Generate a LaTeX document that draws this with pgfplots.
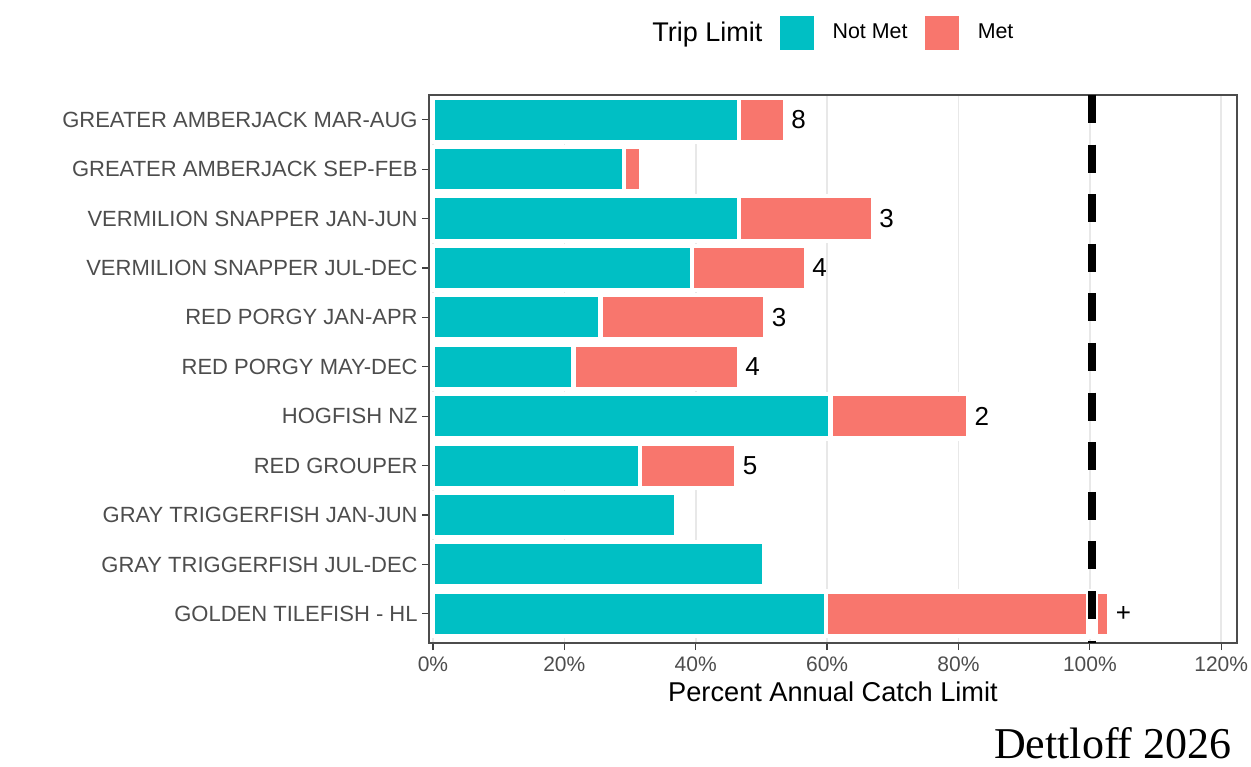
\documentclass[border=0pt]{standalone}
\usepackage{pgfplots}
\pgfplotsset{compat=1.18}
\usepackage{fontspec}
\setmainfont{Liberation Sans}
\newfontfamily\serifcap{Liberation Serif}
\definecolor{notmet}{HTML}{00BFC4}
\definecolor{met}{HTML}{F8766D}
\definecolor{axtext}{HTML}{4D4D4D}
\definecolor{gridc}{HTML}{E8E8E8}
\pgfplotsset{
  frame/.style={at={(214.5pt,61.5pt)}, anchor=south west,
    width=404pt, height=274pt, scale only axis,
    xmin=-0.6, xmax=122.4, ymin=0.41, ymax=11.5}
}
\begin{document}
\begin{tikzpicture}
\path[use as bounding box] (0,0) rectangle (625.5pt,383pt);
\begin{axis}[
  frame,
  xbar stacked, bar width=0.9,
  xtick={0,20,...,120},
  xticklabels={0\%,20\%,40\%,60\%,80\%,100\%,120\%},
  ytick={1,...,11},
  yticklabels={GOLDEN TILEFISH - HL,GRAY TRIGGERFISH JUL-DEC,GRAY TRIGGERFISH JAN-JUN,RED GROUPER,HOGFISH NZ,RED PORGY MAY-DEC,RED PORGY JAN-APR,VERMILION SNAPPER JUL-DEC,VERMILION SNAPPER JAN-JUN,GREATER AMBERJACK SEP-FEB,GREATER AMBERJACK MAR-AUG},
  xmajorgrids, major grid style={gridc, line width=0.8pt},
  tick align=outside, xtick pos=bottom, ytick pos=left,
  major tick length=3.5pt, tick style={black!75, line width=0.6pt},
  axis line style={black!70, line width=0.8pt},
  ticklabel style={font=\fontsize{10.5}{12}\selectfont, text=axtext},
  yticklabel style={font=\fontsize{11}{13}\selectfont, inner xsep=2pt},
  xlabel={Percent Annual Catch Limit},
  xlabel style={font=\fontsize{13.6}{16}\selectfont, at={(axis description cs:0.5,-0.057)}, anchor=north},
  legend columns=-1,
  legend style={draw=none, fill=none, at={(0.2587,1.113)}, anchor=west, inner sep=0pt,
    font=\fontsize{10.7}{13}\selectfont,
    /tikz/every odd column/.append style={column sep=7pt},
    /tikz/every even column/.append style={column sep=6.5pt},
    nodes={inner xsep=0pt}},
  clip=false,
]
\addlegendimage{empty legend}
\addlegendentry{\fontsize{13.5}{16}\selectfont Trip Limit}
\addplot[fill=notmet, draw=white, line width=2.2pt,
  legend image code/.code={\path[fill=notmet] (0pt,-9.7pt) rectangle (19.4pt,9.7pt);}]
  coordinates {(59.8,1) (50.4,2) (37.1,3) (31.5,4) (60.5,5) (21.4,6) (25.5,7) (39.4,8) (46.6,9) (29.1,10) (46.6,11)};
\addlegendentry{Not Met}
\addplot[fill=met, draw=white, line width=2.2pt,
  legend image code/.code={\path[fill=met] (0pt,-9.7pt) rectangle (19.4pt,9.7pt);}]
  coordinates {(43.2,1) (0,2) (0,3) (14.7,4) (21.0,5) (25.2,6) (25.1,7) (17.4,8) (20.4,9) (2.6,10) (7.0,11)};
\addlegendentry{Met}
\end{axis}
\begin{axis}[frame, xtick=\empty, ytick=\empty, clip=false,
  axis line style={black!70, line width=0.8pt}]
\addplot[only marks, mark=none, nodes near coords, point meta=explicit symbolic,
  every node near coord/.append style={anchor=west, font=\fontsize{13}{15}\selectfont, text=black, inner xsep=3pt}]
  coordinates {(103.0,1)[+] (46.2,4)[5] (81.5,5)[2] (46.6,6)[4] (50.6,7)[3] (56.8,8)[4] (67.0,9)[3] (53.6,11)[8]};
\addplot[white, line width=6pt, mark=none] coordinates {(100.3,0.5) (100.3,1.5)};
\addplot[black, line width=3.8pt, mark=none, dash pattern=on 14pt off 10.8pt] coordinates {(100.3,11.5) (100.3,0.41)};
\end{axis}
\node[anchor=base east, inner sep=0pt, font=\serifcap\fontsize{22}{25}\selectfont] at (616pt,4pt) {Dettloff 2026};
\end{tikzpicture}
\end{document}
